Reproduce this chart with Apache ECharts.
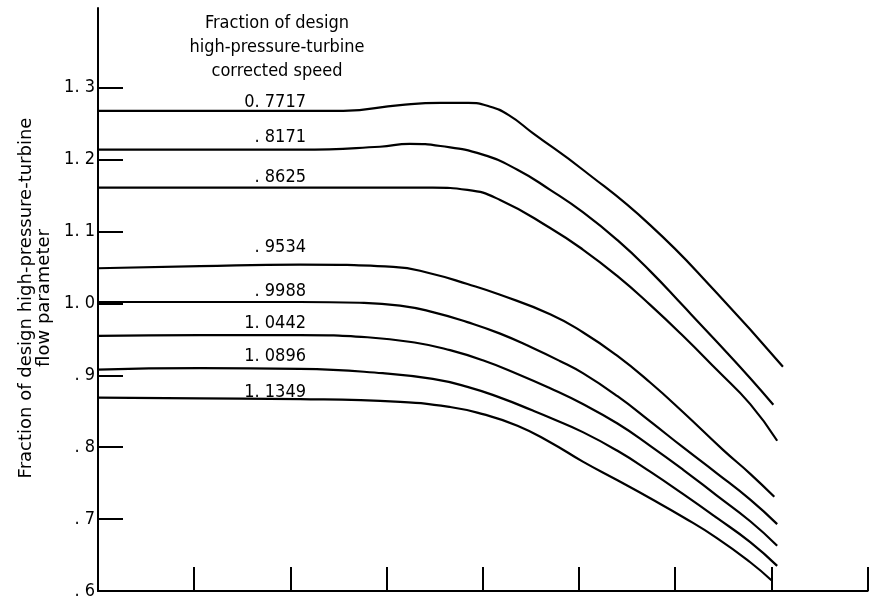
<!DOCTYPE html>
<html>
<head>
<meta charset="utf-8">
<script src="https://cdn.jsdelivr.net/npm/echarts@6/dist/echarts.min.js"></script>
<style>
html,body{margin:0;padding:0;background:#fff;}
#c{width:880px;height:607px;}
</style>
</head>
<body>
<div id="c"></div>
<script>
// ---- data ----
const speedLabels = ['0. 7717', '. 8171', '. 8625', '. 9534', '. 9988', '1. 0442', '1. 0896', '1. 1349'];

const curve07717 = [[0,1.268],[1.06,1.268],[2.10,1.268],[2.55,1.268],[3.14,1.276],[3.56,1.279],[3.85,1.279],[4.07,1.274],[4.27,1.262],[4.52,1.237],[5.04,1.186],[5.74,1.109],[6.43,1.015],[7.12,0.912]];
const curve08171 = [[0,1.214],[1.06,1.214],[2.10,1.214],[2.93,1.218],[3.24,1.222],[3.56,1.219],[4.00,1.207],[4.36,1.186],[4.70,1.158],[5.04,1.127],[5.40,1.088],[5.74,1.045],[6.08,0.997],[6.43,0.947],[6.78,0.896],[7.02,0.859]];
const curve08625 = [[0,1.161],[1.06,1.161],[2.10,1.161],[3.48,1.161],[3.84,1.158],[4.18,1.144],[4.70,1.105],[5.04,1.075],[5.40,1.038],[5.74,0.998],[6.08,0.955],[6.43,0.908],[6.78,0.860],[7.06,0.809]];
const curve09534 = [[0,1.049],[1.06,1.052],[2.10,1.054],[3.07,1.051],[3.48,1.041],[3.84,1.027],[4.18,1.012],[4.70,0.985],[5.04,0.960],[5.40,0.927],[5.74,0.890],[6.08,0.849],[6.50,0.796],[6.78,0.763],[7.03,0.731]];
const curve09988 = [[0,1.002],[1.06,1.002],[2.10,1.002],[2.72,1.001],[3.14,0.997],[3.48,0.988],[3.84,0.974],[4.18,0.958],[4.52,0.938],[4.80,0.920],[5.04,0.903],[5.40,0.871],[5.74,0.836],[6.08,0.800],[6.43,0.764],[6.78,0.727],[7.06,0.693]];
const curve10442 = [[0,0.955],[1.06,0.956],[2.10,0.956],[2.80,0.953],[3.32,0.945],[3.66,0.935],[4.00,0.921],[4.36,0.902],[4.70,0.882],[5.04,0.860],[5.40,0.833],[5.74,0.802],[6.08,0.769],[6.43,0.733],[6.78,0.697],[7.06,0.663]];
const curve10896 = [[0,0.908],[1.06,0.910],[2.10,0.909],[2.96,0.903],[3.48,0.895],[3.84,0.884],[4.18,0.869],[4.52,0.851],[4.70,0.841],[5.04,0.821],[5.40,0.795],[5.74,0.766],[6.08,0.735],[6.43,0.702],[6.78,0.668],[7.06,0.635]];
const curve11349 = [[0,0.869],[1.06,0.868],[2.10,0.867],[3.14,0.863],[3.66,0.856],[4.00,0.846],[4.36,0.830],[4.70,0.807],[5.04,0.780],[5.40,0.754],[5.74,0.729],[6.08,0.703],[6.43,0.674],[6.78,0.640],[7.00,0.615]];

const yTickValues = [0.6, 0.7, 0.8, 0.9, 1.0, 1.1, 1.2, 1.3];
const yTickLabels = ['. 6', '. 7', '. 8', '. 9', '1. 0', '1. 1', '1. 2', '1. 3'];
const xTickValues = [1, 2, 3, 4, 5, 6, 7, 8];

const legendTitle = 'Fraction of design\nhigh-pressure-turbine\ncorrected speed';
const yAxisTitle = 'Fraction of design high-pressure-turbine\nflow parameter';

// ---- chart ----
const curves = [curve07717, curve08171, curve08625, curve09534, curve09988, curve10442, curve10896, curve11349];
const labelGaps = [-1, 3, 1, 8, 1, 2, 3, -3];
const labelAtX = 2.10;
const FONT = "'Liberation Sans Narrow', 'DejaVu Sans Condensed', 'Arial Narrow', sans-serif";

const series = curves.map((pts, k) => ({
  type: 'line',
  showSymbol: true,
  showAllSymbol: true,
  symbol: 'circle',
  symbolSize: 1,
  smooth: 0.5,
  silent: true,
  itemStyle: { color: 'rgba(0,0,0,0)', borderWidth: 0 },
  lineStyle: { color: '#000', width: 2.2 },
  label: { show: false },
  data: pts.map(p => p[0] === labelAtX ? {
    value: p,
    label: {
      show: true, position: 'top', distance: 0,
      formatter: speedLabels[k], align: 'right',
      offset: [6, -labelGaps[k]],
      color: '#000', fontFamily: FONT, fontSize: 18
    }
  } : { value: p })
}));

const chart = echarts.init(document.getElementById('c'), null, { renderer: 'canvas' });
chart.setOption({
  animation: false,
  backgroundColor: '#fff',
  grid: { left: 98, right: 12.4, top: 8, bottom: 16, containLabel: false },
  xAxis: {
    type: 'value', min: 0, max: 8, interval: 1,
    axisLine: { show: true, lineStyle: { color: '#000', width: 2 } },
    axisTick: { show: true, inside: true, length: 24, customValues: xTickValues, lineStyle: { color: '#000', width: 2 } },
    axisLabel: { show: false },
    splitLine: { show: false }
  },
  yAxis: {
    type: 'value', min: 0.6, max: 1.411,
    axisLine: { show: true, lineStyle: { color: '#000', width: 2 } },
    axisTick: { show: true, inside: true, length: 25, customValues: yTickValues, lineStyle: { color: '#000', width: 2 } },
    axisLabel: {
      show: true, customValues: yTickValues, margin: 3,
      color: '#000', fontFamily: FONT, fontSize: 18,
      formatter: v => {
        let best = 0;
        yTickValues.forEach((t, i) => { if (Math.abs(t - v) < Math.abs(yTickValues[best] - v)) best = i; });
        return yTickLabels[best];
      }
    },
    splitLine: { show: false }
  },
  graphic: [
    {
      type: 'text', x: 277, y: 11, silent: true,
      style: { text: legendTitle, align: 'center', verticalAlign: 'top', fill: '#000', font: "18px " + FONT, lineHeight: 24 }
    },
    {
      type: 'text', x: 35, y: 298, rotation: Math.PI / 2, silent: true,
      style: { text: yAxisTitle, align: 'center', verticalAlign: 'middle', fill: '#000', font: "18px 'DejaVu Sans', sans-serif", lineHeight: 18 }
    }
  ],
  series: series
});
</script>
</body>
</html>
